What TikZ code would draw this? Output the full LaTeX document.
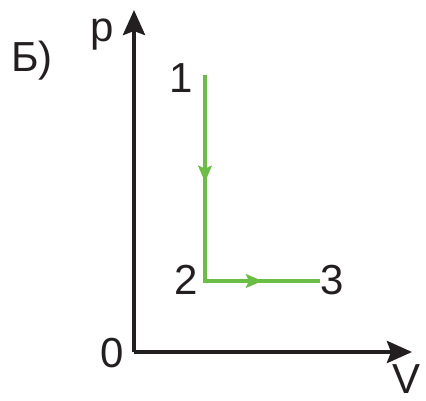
\documentclass[tikz,border=0pt]{standalone}
\usepackage{fontspec}
\setmainfont{Liberation Sans}
\usetikzlibrary{arrows.meta,decorations.markings}
\definecolor{procgreen}{RGB}{106,190,69}
\definecolor{axisblack}{RGB}{35,31,32}
\tikzset{
  axis/.style={line width=4.2pt,color=axisblack,-{Stealth[length=25pt,width=22pt,inset=4pt]}},
  midarrow/.style={postaction={decorate},
    decoration={markings,mark=at position #1 with {\arrow{Stealth[length=16pt,width=13pt,inset=3pt]}}}},
  proc/.style={line width=3.3pt,color=procgreen,line join=miter},
  lbl/.style={inner sep=0pt,font=\fontsize{42}{50}\selectfont,text=axisblack}
}
\begin{document}
\begin{tikzpicture}[x=1pt,y=-1pt]
        \useasboundingbox (0,0) rectangle (426,401);
        \coordinate (O) at (134,352);
        \coordinate (ptip) at (134,10);
        \coordinate (Vtip) at (412,352);
        \coordinate (s1) at (205,75);
        \coordinate (s2) at (205,281);
        \coordinate (s3) at (320,281);
        \draw[axis] (O) -- (ptip);
        \draw[axis] (O) -- (Vtip);
        \draw[proc,midarrow=0.333,midarrow=0.82] (s1) -- (s2) -- (s3);
        \node[lbl,anchor=base west](lb)at(11,72){Б)};
        \node[lbl](lp)at(102,35){p};
        \node[lbl](lV)at(407,379){V};
        \node[lbl](l0)at(112,353){0};
        \node[lbl](l1)at(181,78){1};
        \node[lbl](l2)at(186,280){2};
        \node[lbl](l3)at(332,280){3};
    \end{tikzpicture}
\end{document}
